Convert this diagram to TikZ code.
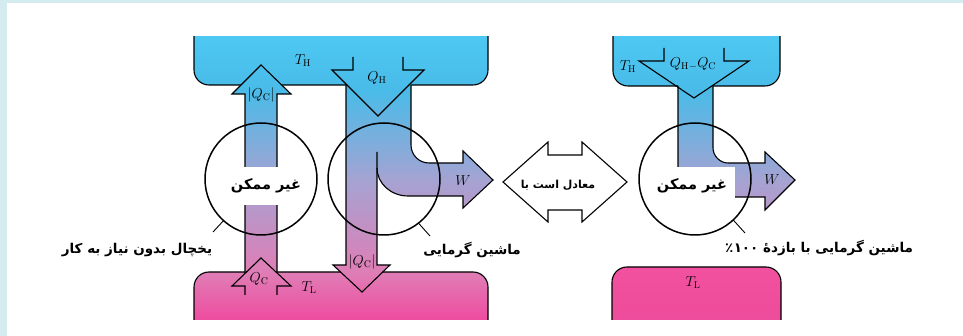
\documentclass[tikz,border=0pt]{standalone}
\usepackage{fontspec}
\newfontfamily\fa[Script=Arabic]{DejaVu Sans}
\TeXXeTstate=1
\definecolor{strip}{HTML}{D4EBEF}
\definecolor{blA}{HTML}{4DC8F3}
\definecolor{blB}{HTML}{49BBE8}
\definecolor{lav}{HTML}{A5A3D2}
\definecolor{pkA}{HTML}{DF7EB6}
\definecolor{pkB}{HTML}{EF4C9F}
\definecolor{hotA}{HTML}{F2519F}
\definecolor{hotB}{HTML}{EC4A9A}
\pgfdeclareverticalshading{flow}{100bp}{color(0bp)=(pkB); color(25bp)=(pkB); color(33.5bp)=(pkA); color(49.7bp)=(lav); color(65.6bp)=(blB); color(75bp)=(blA); color(100bp)=(blA)}
\newcommand\flowfill[1]{\begin{scope}\clip #1; \shade[shading=flow] (0,37) rectangle (963,320);\end{scope}}
\tikzset{
  outline/.style={line width=1.1pt, line join=miter},
  ring/.style={circle, draw, line width=1.5pt, minimum size=112pt, inner sep=0pt, outer sep=0pt},
  lead/.style={line width=0.9pt},
  falabel/.style={font=\fa\bfseries\fontsize{13.5}{16}\selectfont, inner sep=1pt},
  fabig/.style={font=\fa\bfseries\fontsize{14.5}{17}\selectfont, inner sep=1pt},
  fasmall/.style={font=\fa\bfseries\fontsize{11}{13}\selectfont, inner sep=1pt},
  mlabel/.style={font=\fontsize{14}{16}\selectfont, inner sep=0pt},
}
\begin{document}
\begin{tikzpicture}[x=1pt,y=-1pt]
\useasboundingbox (0,0) rectangle (963,336);
% frame strips
\fill[strip] (0,0) rectangle (7,336);
\fill[strip] (0,0) rectangle (963,3);
% ---------- reservoirs ----------
\flowfill{[rounded corners=15pt] (194,0) -- (194,85) -- (488,85) -- (488,0) -- cycle}
\flowfill{[rounded corners=15pt] (194,340) -- (194,272) -- (488,272) -- (488,340) -- cycle}
\flowfill{[rounded corners=15pt] (613,0) -- (613,86) -- (780,86) -- (780,0) -- cycle}
\begin{scope}
  \clip (0,0) rectangle (963,320);
  \shade[top color=hotA, bottom color=hotB, rounded corners=15pt] (612,340) -- (612,267) -- (781,267) -- (781,340) -- cycle;
\end{scope}
\begin{scope}
  \clip (0,37) rectangle (963,336);
  \draw[outline, rounded corners=15pt] (194,0) -- (194,85) -- (488,85) -- (488,0);
  \draw[outline, rounded corners=15pt] (613,0) -- (613,86) -- (780,86) -- (780,0);
\end{scope}
\draw[outline, rounded corners=15pt] (194,320) -- (194,272) -- (488,272) -- (488,320);
\draw[outline, rounded corners=15pt] (612,320) -- (612,267) -- (781,267) -- (781,320);
% ---------- refrigerator flow ----------
\flowfill{(245,280) -- (245,94) -- (232,94) -- (261,65) -- (291,94) -- (277,94) -- (277,280) -- cycle}
\flowfill{(245,300) -- (245,286) -- (232,286) -- (261,258) -- (291,286) -- (277,286) -- (277,300) -- cycle}
\draw[outline] (245,273) -- (245,94) -- (232,94) -- (261,65) -- (291,94) -- (277,94) -- (277,273);
\draw[outline] (245,295) -- (245,286) -- (232,286) -- (261,258) -- (291,286) -- (277,286) -- (277,295);
% ---------- heat engine flow ----------
\flowfill{(346,80) -- (346,265) -- (333,265) -- (362,292) -- (390,265) -- (377,265) -- (377,168) .. controls (377,183.5) and (391,196) .. (408,196) -- (463,196) -- (463,208) -- (493,180) -- (463,151) -- (463,163) -- (429,163) .. controls (419,163) and (411,155) .. (411,145) -- (411,80) -- cycle}
\draw[outline] (346,85) -- (346,265) -- (333,265) -- (362,292) -- (390,265) -- (377,265) -- (377,152);
\draw[outline] (377,168) .. controls (377,183.5) and (391,196) .. (408,196) -- (463,196) -- (463,208) -- (493,180) -- (463,151) -- (463,163) -- (429,163) .. controls (419,163) and (411,155) .. (411,145) -- (411,85);
\draw[outline] (353,57) -- (353,70) -- (332,70) -- (378,116) -- (424,70) -- (403,70) -- (403,57);
% ---------- 100% engine flow ----------
\flowfill{(678,80) -- (678,167) .. controls (678,183.5) and (691.5,197) .. (708,197) -- (765,197) -- (765,210) -- (795,180) -- (765,152) -- (765,163) -- (728,163) .. controls (720,163) and (713,156) .. (713,148) -- (713,80) -- cycle}
\draw[outline] (678,86) -- (678,167) .. controls (678,183.5) and (691.5,197) .. (708,197) -- (765,197) -- (765,210) -- (795,180) -- (765,152) -- (765,163) -- (728,163) .. controls (720,163) and (713,156) .. (713,148) -- (713,86);
\draw[outline] (664,48) -- (664,61) -- (639,61) -- (694,98) -- (749,61) -- (724,61) -- (724,48);
% ---------- circles ----------
\node[ring] (c1) at (261,179) {};
\node[ring] (c2) at (384,179) {};
\node[ring] (c3) at (695,179) {};
\node[fabig, fill=white, minimum height=38pt] (t1) at (266,186) {\beginR غیر ممکن\endR};
\node[fabig, fill=white, minimum height=38pt, minimum width=86pt] (t2) at (692,186) {\beginR غیر ممکن\endR};
% ---------- equivalence arrow ----------
\draw[outline, fill=white] (503,182) -- (548,142) -- (548,155) -- (582,155) -- (582,142) -- (627,182) -- (582,222) -- (582,210) -- (548,210) -- (548,222) -- cycle;
\node[fasmall] (eq) at (558,185) {\beginR معادل است با\endR};
% ---------- math labels ----------
\node[mlabel] (th1) at (303,61) {$T_{\mathrm{H}}$};
\node[mlabel] (qh1) at (377,78) {$Q_{\mathrm{H}}$};
\node[mlabel] (qc1) at (261,95) {$|Q_{\mathrm{C}}|$};
\node[mlabel] (w1) at (463,181) {$W$};
\node[mlabel] (qc2) at (362,262) {$|Q_{\mathrm{C}}|$};
\node[mlabel] (qc3) at (259,279) {$Q_{\mathrm{C}}$};
\node[mlabel] (tl1) at (309,288) {$T_{\mathrm{L}}$};
\node[mlabel] (th2) at (628,67) {$T_{\mathrm{H}}$};
\node[mlabel] (qhc) at (693,64) {$Q_{\mathrm{H}}{}_{-}Q_{\mathrm{C}}$};
\node[mlabel] (w2) at (772,180) {$W$};
\node[mlabel] (tl2) at (693,283) {$T_{\mathrm{L}}$};
% ---------- captions ----------
\node[falabel] (lab1) at (137,250) {\beginR یخچال بدون نیاز به کار\endR};
\node[falabel] (lab2) at (472,250) {\beginR ماشین گرمایی\endR};
\node[falabel] (lab3) at (819,248) {٪\kern0.5pt ۱۰۰ \beginR ماشین گرمایی با بازدهٔ\endR};
\coordinate (l1) at (213,232);
\coordinate (l2) at (430,236);
\coordinate (l3) at (745,233);
\draw[lead] (c1.228) -- (l1);
\draw[lead] (c2.308) -- (l2);
\draw[lead] (c3.313) -- (l3);
\end{tikzpicture}
\end{document}
